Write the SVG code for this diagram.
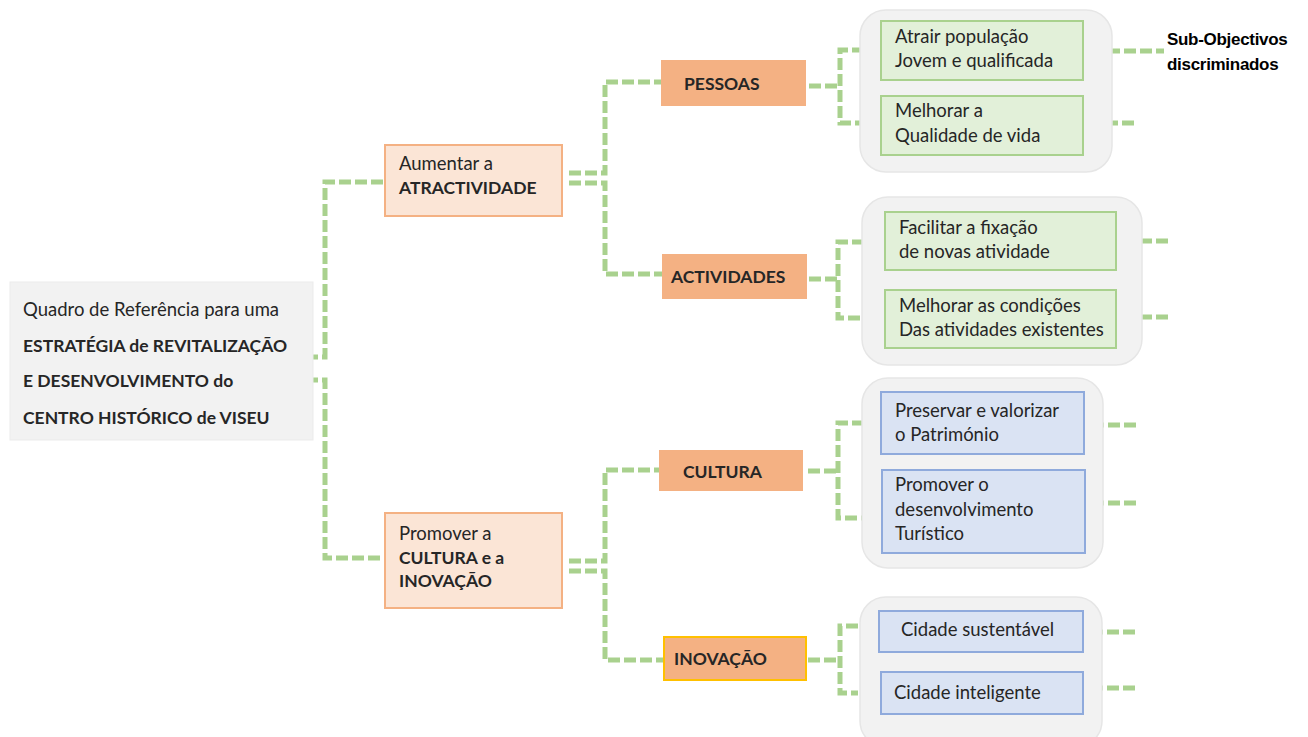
<svg xmlns="http://www.w3.org/2000/svg" width="1308" height="737" viewBox="0 0 1308 737">
<style>
text{font-family:Lato,"Open Sans","Liberation Sans",sans-serif;font-size:18.5px;fill:#262626}
.b{font-weight:bold;font-size:17.5px}
.c{fill:none;stroke:#a9d18e;stroke-width:5;stroke-dasharray:12 4}
.grp{fill:#f2f2f2;stroke:#e6e6e6;stroke-width:1.5}
.lt{fill:#fbe5d6;stroke:#f4b183;stroke-width:2}
.dk{fill:#f4b183;stroke:#f4b183;stroke-width:2}
.gr{fill:#e2f0d9;stroke:#a9d18e;stroke-width:2}
.bl{fill:#dae3f3;stroke:#8faadc;stroke-width:2}
.sub{font-family:"Liberation Sans",Arial,sans-serif;font-weight:bold;font-size:17px;fill:#000;letter-spacing:-0.3px}
</style>
<rect width="1308" height="737" fill="#fff"/>
<g id="connectors">
<path class="c" d="M290 357H325V182H385"/>
<path class="c" d="M290 380H325V558H385"/>
<path class="c" d="M569 173H605V82H662"/>
<path class="c" d="M569 183H605V274H663"/>
<path class="c" d="M569 561H605V470H660"/>
<path class="c" d="M569 571H605V660H664"/>
<path class="c" d="M809 86H840"/>
<path class="c" d="M880 50H840V123H880"/>
<path class="c" d="M809 279H838"/>
<path class="c" d="M880 242H838V318H880"/>
<path class="c" d="M808 471H838"/>
<path class="c" d="M880 423H838V518H880"/>
<path class="c" d="M808 660H840"/>
<path class="c" d="M858 626H840V693H858"/>
<path class="c" d="M1092 51H1164"/>
<path class="c" d="M1090 123H1136"/>
<path class="c" d="M1124 241H1170"/>
<path class="c" d="M1124 317H1170"/>
<path class="c" d="M1092 425H1140"/>
<path class="c" d="M1092 503H1140"/>
<path class="c" d="M1091 632H1138"/>
<path class="c" d="M1091 688H1138"/>
</g>
<g id="root">
<rect x="10" y="282" width="303" height="158" fill="#f2f2f2" stroke="#ebebeb"/>
<text x="23" y="316">Quadro de Referência para uma</text>
<text class="b" x="23" y="352">ESTRATÉGIA de REVITALIZAÇÃO</text>
<text class="b" x="23" y="387">E DESENVOLVIMENTO do</text>
<text class="b" x="23" y="424">CENTRO HISTÓRICO de VISEU</text>
</g>
<g id="atractividade">
<rect class="lt" x="385" y="145" width="177" height="71"/>
<text x="399" y="170">Aumentar a</text>
<text class="b" x="399" y="194">ATRACTIVIDADE</text>
</g>
<g id="cultura-inovacao">
<rect class="lt" x="385" y="513" width="177" height="95"/>
<text x="399" y="540">Promover a</text>
<text class="b" x="399" y="564">CULTURA e a</text>
<text class="b" x="399" y="587">INOVAÇÃO</text>
</g>
<g id="pessoas">
<rect class="dk" x="662" y="61" width="143" height="44"/>
<text class="b" x="684" y="90">PESSOAS</text>
</g>
<g id="actividades">
<rect class="dk" x="663" y="255" width="143" height="43"/>
<text class="b" x="671" y="283">ACTIVIDADES</text>
</g>
<g id="cultura">
<rect class="dk" x="660" y="451" width="142" height="39"/>
<text class="b" x="683" y="478">CULTURA</text>
</g>
<g id="inovacao">
<rect x="664" y="637" width="142" height="43" fill="#f4b183" stroke="#ffc000" stroke-width="2"/>
<text class="b" x="674" y="665">INOVAÇÃO</text>
</g>
<g id="group-pessoas">
<rect class="grp" x="860" y="10" width="252" height="162" rx="26"/>
<rect class="gr" x="881" y="21" width="202" height="59"/>
<text x="895" y="43">Atrair população</text>
<text x="895" y="67">Jovem e qualificada</text>
<rect class="gr" x="881" y="96" width="202" height="59"/>
<text x="895" y="117">Melhorar a</text>
<text x="895" y="142">Qualidade de vida</text>
</g>
<g id="group-actividades">
<rect class="grp" x="862" y="197" width="280" height="168" rx="26"/>
<rect class="gr" x="885" y="212" width="231" height="58"/>
<text x="899" y="234">Facilitar a fixação</text>
<text x="899" y="258">de novas atividade</text>
<rect class="gr" x="885" y="290" width="231" height="58"/>
<text x="899" y="312">Melhorar as condições</text>
<text x="899" y="336">Das atividades existentes</text>
</g>
<g id="group-cultura">
<rect class="grp" x="862" y="378" width="241" height="190" rx="26"/>
<rect class="bl" x="881" y="392" width="203" height="62"/>
<text x="895" y="417">Preservar e valorizar</text>
<text x="895" y="441">o Património</text>
<rect class="bl" x="882" y="470" width="203" height="83"/>
<text x="895" y="491">Promover o</text>
<text x="895" y="516">desenvolvimento</text>
<text x="895" y="540">Turístico</text>
</g>
<g id="group-inovacao">
<rect class="grp" x="860" y="597" width="242" height="150" rx="26"/>
<rect class="bl" x="879" y="611" width="204" height="41"/>
<text x="901" y="636">Cidade sustentável</text>
<rect class="bl" x="881" y="672" width="202" height="42"/>
<text x="894" y="699">Cidade inteligente</text>
</g>
<g id="label-sub">
<text class="sub" x="1167" y="45">Sub-Objectivos</text>
<text class="sub" x="1167" y="70">discriminados</text>
</g>
</svg>
